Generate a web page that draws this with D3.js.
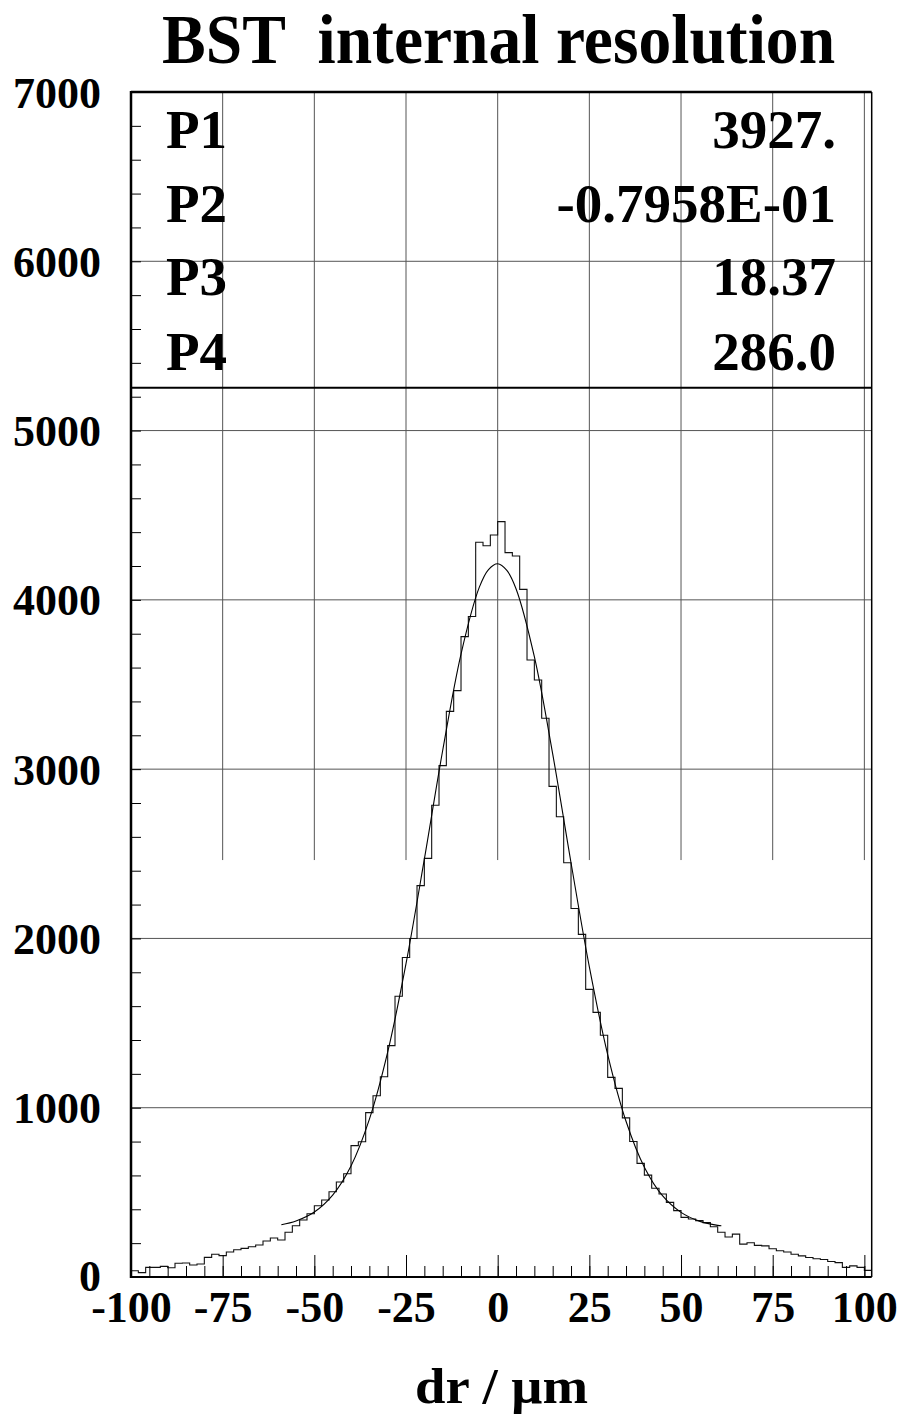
<!DOCTYPE html>
<html><head><meta charset="utf-8">
<script src="https://cdn.jsdelivr.net/npm/d3@7"></script>
<style>
body{margin:0;background:#fff}
text{font-family:"Liberation Serif","Times New Roman",serif;font-weight:bold;fill:#000}
</style>
</head><body><svg id="c" width="900" height="1414"></svg>
<script>
const titleText = "BST  internal resolution";
const xTitleText = "dr / \u03bcm";
const xTickValues = [-100, -75, -50, -25, 0, 25, 50, 75, 100];
const yTickValues = [0, 1000, 2000, 3000, 4000, 5000, 6000, 7000];
const binStart = -100, binWidth = 2;
const binCounts = [
  37, 26, 57, 57, 63, 55, 81, 83, 71, 77,
  116, 134, 126, 148, 161, 169, 179, 189, 213, 230,
  219, 264, 303, 337, 374, 421, 455, 504, 561, 610,
  776, 799, 971, 1071, 1183, 1367, 1658, 1887, 2000, 2312,
  2473, 2787, 3021, 3341, 3464, 3783, 3902, 4340, 4320, 4383,
  4462, 4279, 4259, 4062, 3645, 3527, 3301, 2898, 2719, 2447,
  2177, 2024, 1699, 1563, 1428, 1179, 1114, 940, 800, 671,
  602, 524, 490, 441, 392, 352, 343, 333, 321, 297,
  264, 236, 253, 194, 202, 187, 184, 167, 155, 148,
  134, 125, 115, 108, 103, 92, 85, 57, 66, 57,
  39
];
const fitX = [-59, -55, -50, -45, -40, -35, -30, -25, -20, -15, -10, -5, -2.5, 0, 2.5, 5, 10, 15, 20, 25, 30, 35, 40, 45, 50, 55, 60, 61];
const fitY = [309, 331, 384, 484, 656, 931, 1328, 1851, 2468, 3110, 3680, 4075, 4179, 4213, 4174, 4066, 3664, 3090, 2447, 1832, 1314, 920, 649, 479, 382, 330, 305, 303];
const statNames = ["P1", "P2", "P3", "P4"];
const statValues = ["3927.", "-0.7958E-01", "18.37", "286.0"];

const svg = d3.select("#c");
const pL = 131, pR = 871.7, pT = 92, pB = 1277;
const x = d3.scaleLinear().domain([-100, 102]).range([pL, pR]);
const y = d3.scaleLinear().domain([0, 7000]).range([pB, pT]);
const FONT = '"Liberation Serif","Times New Roman",serif';
const gridColor = "#555";

// horizontal grid
svg.append("g").selectAll("line").data(yTickValues.filter(v => v > 0 && v < 7000)).join("line")
  .attr("x1", pL).attr("x2", pR).attr("y1", d => y(d)).attr("y2", d => y(d))
  .attr("stroke", gridColor).attr("stroke-width", 1);
// vertical grid (upper part only)
const vGridBottom = 2463;
svg.append("g").selectAll("line").data(xTickValues.filter(v => v > -100)).join("line")
  .attr("x1", d => x(d)).attr("x2", d => x(d)).attr("y1", y(7000)).attr("y2", y(vGridBottom))
  .attr("stroke", gridColor).attr("stroke-width", 1);

// histogram
const pts = binCounts.map((c, i) => [binStart + i * binWidth, c]);
pts.push([binStart + binCounts.length * binWidth, binCounts[binCounts.length - 1]]);
svg.append("path").attr("d", d3.line().x(d => x(d[0])).y(d => y(d[1])).curve(d3.curveStepAfter)(pts))
  .attr("fill", "none").attr("stroke", "#111").attr("stroke-width", 1.1);

// fit curve
const fitPts = fitX.map((v, i) => [v, fitY[i]]);
svg.append("path").attr("d", d3.line().x(d => x(d[0])).y(d => y(d[1])).curve(d3.curveCatmullRom.alpha(0.5))(fitPts))
  .attr("fill", "none").attr("stroke", "#000").attr("stroke-width", 1.1);

// x axis ticks
const gxMinor = svg.append("g").attr("transform", `translate(0,${pB})`)
  .call(d3.axisBottom(x).tickValues(d3.range(-100, 101, 5)).tickSize(-11).tickFormat(""));
gxMinor.select(".domain").remove();
const gx = svg.append("g").attr("transform", `translate(0,${pB})`)
  .call(d3.axisBottom(x).tickValues(xTickValues).tickSize(-22).tickFormat(d => String(d)));
gx.select(".domain").remove();
gx.selectAll(".tick text").attr("y", 45).attr("dy", null)
  .attr("font-size", 44).attr("font-family", FONT).attr("font-weight", "bold");

// y axis ticks
const gyMinor = svg.append("g").attr("transform", `translate(${pL},0)`)
  .call(d3.axisLeft(y).tickValues(d3.range(0, 7001, 200)).tickSize(-10).tickFormat(""));
gyMinor.select(".domain").remove();
const gy = svg.append("g").attr("transform", `translate(${pL},0)`)
  .call(d3.axisLeft(y).tickValues(yTickValues).tickSize(0).tickPadding(30).tickFormat(d => String(d)));
gy.select(".domain").remove();
gy.selectAll(".tick text").attr("dy", null).attr("y", d => d === 0 ? 13 : 15)
  .attr("font-size", 44).attr("font-family", FONT).attr("font-weight", "bold");

// stats box bottom
const boxBottom = 5253;
svg.append("line").attr("x1", pL).attr("x2", pR).attr("y1", y(boxBottom)).attr("y2", y(boxBottom))
  .attr("stroke", "#000").attr("stroke-width", 2);

// frame
svg.append("line").attr("x1", pL).attr("x2", pL).attr("y1", pT - 1).attr("y2", pB + 1).attr("stroke", "#000").attr("stroke-width", 2.5);
svg.append("line").attr("x1", pL).attr("x2", pR).attr("y1", pT).attr("y2", pT).attr("stroke", "#000").attr("stroke-width", 2.5);
svg.append("line").attr("x1", pL).attr("x2", pR).attr("y1", pB).attr("y2", pB).attr("stroke", "#000").attr("stroke-width", 2);
svg.append("line").attr("x1", pR).attr("x2", pR).attr("y1", pT).attr("y2", pB).attr("stroke", "#000").attr("stroke-width", 1.5);

// stats text
const statBase = [148.3, 221.7, 295, 369.5];
statNames.forEach((n, i) => {
  svg.append("text").attr("x", 166).attr("y", statBase[i]).attr("font-size", 55).text(n);
  svg.append("text").attr("x", 836).attr("y", statBase[i]).attr("font-size", 55).attr("text-anchor", "end").text(statValues[i]);
});

// title
svg.append("text").attr("transform", "translate(162,62.5) scale(0.95,1)").attr("font-size", 69)
  .attr("xml:space", "preserve").style("white-space", "pre").text(titleText);
// x title
svg.append("text").attr("x", 415).attr("y", 1403).attr("font-size", 50)
  .attr("textLength", 173).attr("lengthAdjust", "spacingAndGlyphs").text(xTitleText);
</script></body></html>
